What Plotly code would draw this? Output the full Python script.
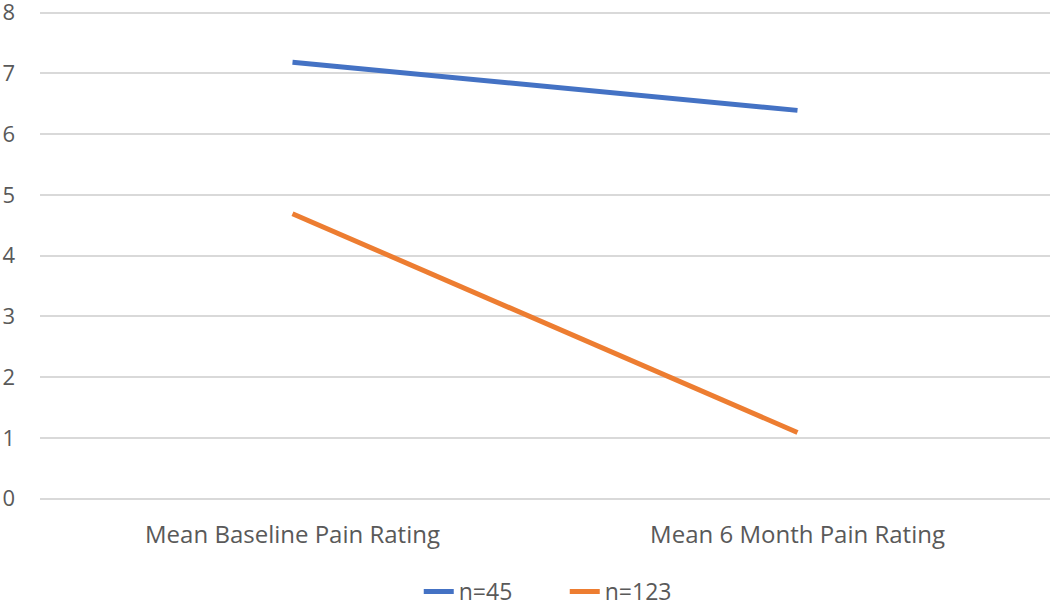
import plotly.graph_objects as go

categories = ["Mean Baseline Pain Rating", "Mean 6 Month Pain Rating"]
n45 = [7.18, 6.39]
n123 = [4.69, 1.09]
y_ticks = [0, 1, 2, 3, 4, 5, 6, 7, 8]

fig = go.Figure()
fig.add_trace(go.Scatter(x=categories, y=n45, mode="lines", name="n=45",
                         line=dict(color="#4472C4", width=5)))
fig.add_trace(go.Scatter(x=categories, y=n123, mode="lines", name="n=123",
                         line=dict(color="#ED7D31", width=5)))

fig.update_layout(
    width=1050, height=605,
    margin=dict(l=40, r=0, t=11, b=105, autoexpand=False),
    paper_bgcolor="white", plot_bgcolor="white",
    font=dict(family="Open Sans", size=24, color="#595959"),
    showlegend=True,
    legend=dict(orientation="h", x=0.375, xanchor="left", y=-0.187, yanchor="middle",
                entrywidth=101, entrywidthmode="pixels",
                font=dict(size=23, color="#595959")),
    xaxis=dict(type="category", range=[-0.5, 1.5], showgrid=False, showline=False,
               zeroline=False, ticks="", tickfont=dict(size=24), automargin=False,
               ticklabelstandoff=18),
    yaxis=dict(range=[-0.02, 8.025], tickvals=y_ticks, showgrid=True, gridcolor="#D9D9D9",
               gridwidth=2, zeroline=True, zerolinecolor="#D9D9D9", zerolinewidth=2,
               showline=False, ticks="", automargin=False, ticklabeloverflow="allow",
               ticklabelstandoff=24, tickfont=dict(size=22)),
)
fig.write_html("out.html", config={"displayModeBar": False},
               post_script="document.body.style.margin='0px';document.body.style.overflow='hidden';")
